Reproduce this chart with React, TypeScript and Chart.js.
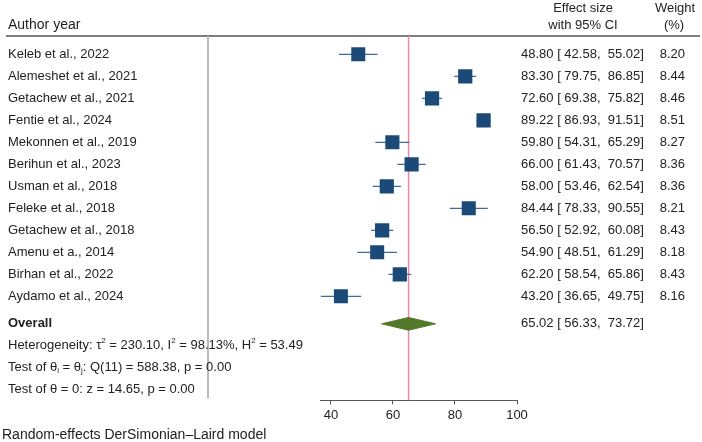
import { useEffect, useRef } from "react";
import { Chart, registerables } from "chart.js";

Chart.register(...registerables);

// Study-level estimates (prevalence, %) with 95% confidence intervals and weights
const studies = [
  "Keleb et al., 2022",
  "Alemeshet et al., 2021",
  "Getachew et al., 2021",
  "Fentie et al., 2024",
  "Mekonnen et al., 2019",
  "Berihun et al., 2023",
  "Usman et al., 2018",
  "Feleke et al., 2018",
  "Getachew et al., 2018",
  "Amenu et a., 2014",
  "Birhan et al., 2022",
  "Aydamo et al., 2024",
];
const effects = [48.8, 83.3, 72.6, 89.22, 59.8, 66.0, 58.0, 84.44, 56.5, 54.9, 62.2, 43.2];
const lower = [42.58, 79.75, 69.38, 86.93, 54.31, 61.43, 53.46, 78.33, 52.92, 48.51, 58.54, 36.65];
const upper = [55.02, 86.85, 75.82, 91.51, 65.29, 70.57, 62.54, 90.55, 60.08, 61.29, 65.86, 49.75];
const weights = [8.2, 8.44, 8.46, 8.51, 8.27, 8.36, 8.36, 8.21, 8.43, 8.18, 8.43, 8.16];

// Pooled random-effects estimate
const overallEst = 65.02;
const overallLo = 56.33;
const overallHi = 73.72;

const xTicks = [40, 60, 80, 100];
const xMin = 36.65;
const xMax = 100;

// Row positions (row units, top to bottom)
const studyRows = studies.map((_, i) => i + 1);
const overallRow = 13.25;
const statRows = [14.25, 15.25, 16.25];
const yTop = 0.167;
const yBottom = 16.73;

const FONT = "'Liberation Sans', Arial, sans-serif";
const TEXT = "#222";
const SQUARE = "#1b4a79";
const CI_LINE = "#3d6c9c";
const DIAMOND = "#52792a";
const REF_LINE = "#e68aa5";
const DIAMOND_HALF = 0.29;
const MAX_SQUARE_RADIUS = 10.1;

type Seg = { t: string; mode?: "sup" | "sub" };

const statLines: Seg[][] = [
  [
    { t: "Heterogeneity: \u03C4" },
    { t: "2", mode: "sup" },
    { t: " = 230.10, I" },
    { t: "2", mode: "sup" },
    { t: " = 98.13%, H" },
    { t: "2", mode: "sup" },
    { t: " = 53.49" },
  ],
  [
    { t: "Test of \u03B8" },
    { t: "i", mode: "sub" },
    { t: " = \u03B8" },
    { t: "j", mode: "sub" },
    { t: ": Q(11) = 588.38, p = 0.00" },
  ],
  [{ t: "Test of \u03B8 = 0: z = 14.65, p = 0.00" }],
];

const pad6 = (v: number) => v.toFixed(2).padStart(6, " ");
const ciText = (e: number, lo: number, hi: number) =>
  `${e.toFixed(2)} [${pad6(lo)}, ${pad6(hi)}]`;

const textPlugin = {
  id: "forestText",
  beforeDatasetsDraw(chart: any) {
    const { ctx, chartArea } = chart;
    ctx.save();
    // header rule
    ctx.strokeStyle = "#555";
    ctx.lineWidth = 1.5;
    ctx.beginPath();
    ctx.moveTo(6, chartArea.top);
    ctx.lineTo(700, chartArea.top);
    ctx.stroke();
    // divider between labels and plot
    ctx.strokeStyle = "#bbb";
    ctx.lineWidth = 2;
    ctx.beginPath();
    ctx.moveTo(208, chartArea.top);
    ctx.lineTo(208, chartArea.bottom - 2);
    ctx.stroke();
    ctx.restore();
  },
  afterDraw(chart: any) {
    const { ctx } = chart;
    const yScale = chart.scales.y;
    const yp = (v: number) => yScale.getPixelForValue(v);
    ctx.save();
    ctx.fillStyle = TEXT;
    ctx.textBaseline = "middle";

    // column headers
    ctx.textAlign = "left";
    ctx.font = `14px ${FONT}`;
    ctx.fillText("Author year", 8, 25);
    ctx.font = `13px ${FONT}`;
    ctx.textAlign = "center";
    ctx.fillText("Effect size", 583, 8);
    ctx.fillText("with 95% CI", 583, 25);
    ctx.fillText("Weight", 675, 8);
    ctx.fillText("(%)", 674, 25);

    // study rows
    studies.forEach((name, i) => {
      const y = yp(studyRows[i]);
      ctx.textAlign = "left";
      ctx.fillText(name, 8, y);
      ctx.fillText(ciText(effects[i], lower[i], upper[i]), 521, y);
      ctx.textAlign = "right";
      ctx.fillText(weights[i].toFixed(2), 685, y);
    });

    // overall row
    const oy = yp(overallRow);
    ctx.textAlign = "left";
    ctx.font = `bold 13px ${FONT}`;
    ctx.fillText("Overall", 8, oy);
    ctx.font = `13px ${FONT}`;
    ctx.fillText(ciText(overallEst, overallLo, overallHi), 521, oy);

    // heterogeneity and test statistics
    statLines.forEach((segs, k) => {
      const y = yp(statRows[k]);
      let x = 8;
      segs.forEach((s) => {
        if (s.mode) {
          ctx.font = `8px ${FONT}`;
          const dy = s.mode === "sup" ? -5 : 3;
          ctx.fillText(s.t, x, y + dy);
          x += ctx.measureText(s.t).width;
          ctx.font = `13px ${FONT}`;
        } else {
          ctx.fillText(s.t, x, y);
          x += ctx.measureText(s.t).width;
        }
      });
    });

    // footnote
    ctx.font = `14px ${FONT}`;
    ctx.fillText("Random-effects DerSimonian\u2013Laird model", 2, 435);
    ctx.restore();
  },
};

export default function App() {
  const ref = useRef<HTMLCanvasElement | null>(null);

  useEffect(() => {
    if (!ref.current) return;

    const ciSets = studies.map((_, i) => ({
      type: "line" as const,
      data: [
        { x: lower[i], y: studyRows[i] },
        { x: upper[i], y: studyRows[i] },
      ],
      borderColor: CI_LINE,
      borderWidth: 1.3,
      pointRadius: 0,
      fill: false,
      order: 2,
    }));

    const maxW = Math.max(...weights);

    const chart = new Chart(ref.current, {
      type: "scatter",
      data: {
        datasets: [
          {
            type: "scatter",
            data: effects.map((e, i) => ({ x: e, y: studyRows[i] })),
            pointStyle: "rect",
            pointRadius: weights.map((w) => MAX_SQUARE_RADIUS * Math.sqrt(w / maxW)),
            backgroundColor: SQUARE,
            borderColor: SQUARE,
            borderWidth: 0,
            order: 0,
          },
          {
            type: "line",
            data: [
              { x: overallLo, y: overallRow },
              { x: overallEst, y: overallRow - DIAMOND_HALF },
              { x: overallHi, y: overallRow },
              { x: overallEst, y: overallRow + DIAMOND_HALF },
              { x: overallLo, y: overallRow },
            ],
            borderColor: DIAMOND,
            backgroundColor: DIAMOND,
            borderWidth: 1,
            pointRadius: 0,
            tension: 0,
            fill: "shape",
            order: 0,
          },
          ...ciSets,
          {
            type: "line",
            data: [
              { x: overallEst, y: yTop },
              { x: overallEst, y: yBottom },
            ],
            borderColor: REF_LINE,
            borderWidth: 1.5,
            pointRadius: 0,
            fill: false,
            order: 3,
          },
        ] as any,
      },
      options: {
        animation: false,
        responsive: false,
        events: [],
        layout: { padding: { top: 36, left: 320.6, right: 185, bottom: 16 } },
        plugins: {
          legend: { display: false },
          tooltip: { enabled: false },
        },
        scales: {
          x: {
            type: "linear",
            min: xMin,
            max: xMax,
            afterBuildTicks: (scale: any) => {
              scale.ticks = xTicks.map((v) => ({ value: v }));
            },
            grid: {
              drawOnChartArea: false,
              drawTicks: true,
              tickLength: 4,
              color: "#555",
            },
            border: { display: true, color: "#555", width: 1 },
            ticks: {
              color: TEXT,
              font: { family: FONT, size: 13 },
              padding: 3,
              maxRotation: 0,
              autoSkip: false,
            },
          },
          y: {
            type: "linear",
            display: false,
            reverse: true,
            min: yTop,
            max: yBottom,
          },
        },
      },
      plugins: [textPlugin],
    });

    return () => chart.destroy();
  }, []);

  return (
    <div
      style={{
        position: "absolute",
        left: 0,
        top: 0,
        width: 702,
        height: 442,
        background: "#fff",
      }}
    >
      <canvas ref={ref} width={702} height={442} />
    </div>
  );
}
